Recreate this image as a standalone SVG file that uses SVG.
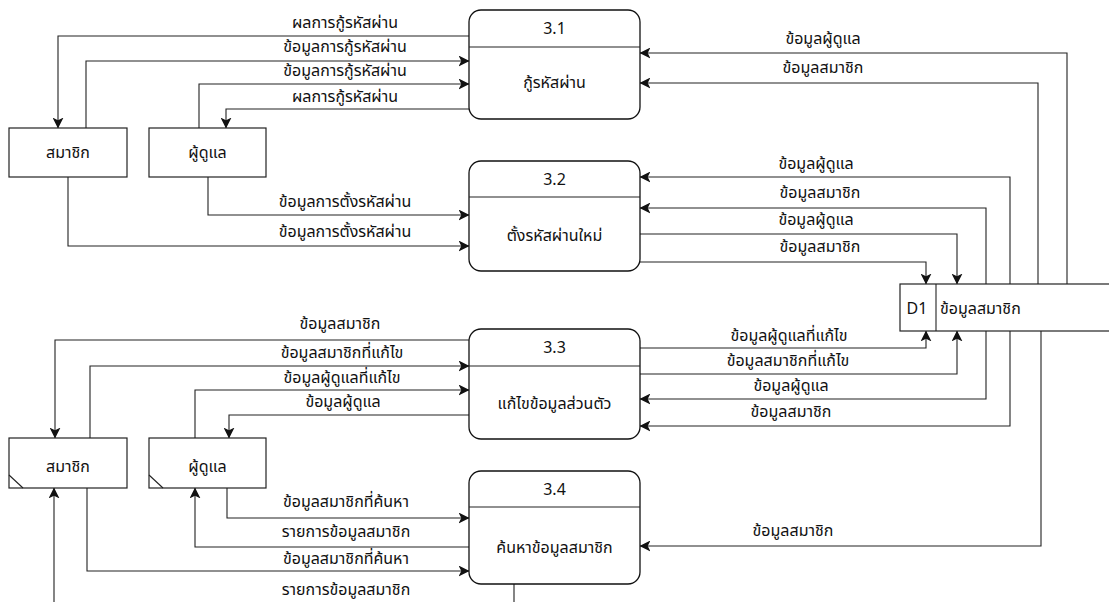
<svg xmlns="http://www.w3.org/2000/svg" width="1109" height="602" viewBox="0 0 1109 602">
  <style>
    text { font-family: "Noto Sans Thai", "Leelawadee UI", Tahoma, "Noto Sans", "DejaVu Sans", sans-serif; font-size: 16px; fill: #111; text-anchor: middle; dominant-baseline: central; }
    .proc { fill: #fff; stroke: #111; stroke-width: 1.3; }
    .ent { fill: #fff; stroke: #222; stroke-width: 1.2; }
    .flow { fill: none; stroke: #222; stroke-width: 1.1; marker-end: url(#arrow); }
    .plain { fill: none; stroke: #222; stroke-width: 1.1; }
  </style>
  <defs>
    <marker id="arrow" viewBox="0 0 10 10" refX="9.5" refY="5" markerWidth="11" markerHeight="11" markerUnits="userSpaceOnUse" orient="auto">
      <path d="M0,0 L10,5 L0,10 L2.5,5 Z" fill="#111"/>
    </marker>
  </defs>
  <rect width="1109" height="602" fill="#fff"/>

  <!-- connectors -->
  <g id="connectors">
    <!-- 3.1 -->
    <path class="flow" d="M469,36 H58 V128"/>
    <path class="flow" d="M86,128 V61 H469"/>
    <path class="flow" d="M199,128 V84 H469"/>
    <path class="flow" d="M469,109 H226 V128"/>
    <path class="flow" d="M1067,284 V53 H640"/>
    <path class="flow" d="M1038,284 V83 H640"/>
    <!-- 3.2 -->
    <path class="flow" d="M208,177 V215 H469"/>
    <path class="flow" d="M68,177 V246 H469"/>
    <path class="flow" d="M1010,284 V177 H640"/>
    <path class="flow" d="M986,284 V208 H640"/>
    <path class="flow" d="M640,234 H957 V284"/>
    <path class="flow" d="M640,262 H926 V284"/>
    <!-- 3.3 -->
    <path class="flow" d="M469,340 H55 V438"/>
    <path class="flow" d="M90,438 V366 H469"/>
    <path class="flow" d="M195,438 V390 H469"/>
    <path class="flow" d="M469,415 H229 V438"/>
    <path class="flow" d="M640,348 H926 V331"/>
    <path class="flow" d="M640,374 H957 V331"/>
    <path class="flow" d="M986,331 V399 H640"/>
    <path class="flow" d="M1010,331 V426 H640"/>
    <!-- 3.4 -->
    <path class="flow" d="M227,488 V518 H469"/>
    <path class="flow" d="M469,547 H195 V488"/>
    <path class="flow" d="M87,488 V571 H469"/>
    <path class="flow" d="M514,584 V620 H54 V488"/>
    <path class="flow" d="M1041,331 V546 H640"/>

    <!-- flow labels -->
    <text x="345" y="23">ผลการกู้รหัสผ่าน</text>
    <text x="345" y="47">ข้อมูลการกู้รหัสผ่าน</text>
    <text x="345" y="71">ข้อมูลการกู้รหัสผ่าน</text>
    <text x="345" y="97">ผลการกู้รหัสผ่าน</text>
    <text x="823" y="39">ข้อมูลผู้ดูแล</text>
    <text x="823" y="68">ข้อมูลสมาชิก</text>

    <text x="345" y="202">ข้อมูลการตั้งรหัสผ่าน</text>
    <text x="345" y="232">ข้อมูลการตั้งรหัสผ่าน</text>
    <text x="816" y="164">ข้อมูลผู้ดูแล</text>
    <text x="820" y="193">ข้อมูลสมาชิก</text>
    <text x="816" y="220">ข้อมูลผู้ดูแล</text>
    <text x="820" y="247">ข้อมูลสมาชิก</text>

    <text x="340" y="324">ข้อมูลสมาชิก</text>
    <text x="342" y="353">ข้อมูลสมาชิกที่แก้ไข</text>
    <text x="342" y="378">ข้อมูลผู้ดูแลที่แก้ไข</text>
    <text x="343" y="402">ข้อมูลผู้ดูแล</text>
    <text x="789" y="336">ข้อมูลผู้ดูแลที่แก้ไข</text>
    <text x="788" y="361">ข้อมูลสมาชิกที่แก้ไข</text>
    <text x="791" y="386">ข้อมูลผู้ดูแล</text>
    <text x="791" y="412">ข้อมูลสมาชิก</text>

    <text x="346" y="502">ข้อมูลสมาชิกที่ค้นหา</text>
    <text x="346" y="532">รายการข้อมูลสมาชิก</text>
    <text x="346" y="559">ข้อมูลสมาชิกที่ค้นหา</text>
    <text x="346" y="590">รายการข้อมูลสมาชิก</text>
    <text x="793" y="531">ข้อมูลสมาชิก</text>
  </g>

  <!-- processes -->
  <g id="p3_1">
    <rect class="proc" x="469" y="10" width="171" height="109" rx="12"/>
    <line class="plain" x1="469" y1="47" x2="640" y2="47"/>
    <text x="554.5" y="29">3.1</text>
    <text x="554.5" y="83">กู้รหัสผ่าน</text>
  </g>
  <g id="p3_2">
    <rect class="proc" x="469" y="161" width="171" height="110" rx="12"/>
    <line class="plain" x1="469" y1="197" x2="640" y2="197"/>
    <text x="554.5" y="180">3.2</text>
    <text x="554.5" y="236">ตั้งรหัสผ่านใหม่</text>
  </g>
  <g id="p3_3">
    <rect class="proc" x="469" y="329" width="171" height="110" rx="12"/>
    <line class="plain" x1="469" y1="366" x2="640" y2="366"/>
    <text x="554.5" y="348">3.3</text>
    <text x="554.5" y="404">แก้ไขข้อมูลส่วนตัว</text>
  </g>
  <g id="p3_4">
    <rect class="proc" x="469" y="471" width="171" height="113" rx="12"/>
    <line class="plain" x1="469" y1="507" x2="640" y2="507"/>
    <text x="554.5" y="490">3.4</text>
    <text x="554.5" y="548">ค้นหาข้อมูลสมาชิก</text>
  </g>

  <!-- external entities -->
  <g id="member_top">
    <rect class="ent" x="9" y="128" width="118" height="49"/>
    <text x="68" y="153">สมาชิก</text>
  </g>
  <g id="admin_top">
    <rect class="ent" x="149" y="128" width="117" height="49"/>
    <text x="207.5" y="153">ผู้ดูแล</text>
  </g>
  <g id="member_bottom">
    <rect class="ent" x="9" y="438" width="118" height="50"/>
    <line class="plain" x1="9" y1="475" x2="23" y2="488"/>
    <text x="68" y="467">สมาชิก</text>
  </g>
  <g id="admin_bottom">
    <rect class="ent" x="149" y="438" width="117" height="50"/>
    <line class="plain" x1="149" y1="475" x2="163" y2="488"/>
    <text x="207.5" y="467">ผู้ดูแล</text>
  </g>

  <!-- data store -->
  <g id="d1">
    <rect class="ent" x="900" y="284" width="230" height="47"/>
    <line class="plain" x1="936" y1="284" x2="936" y2="331"/>
    <text x="917" y="309">D1</text>
    <text x="940" y="309" style="text-anchor: start">ข้อมูลสมาชิก</text>
  </g>
</svg>
